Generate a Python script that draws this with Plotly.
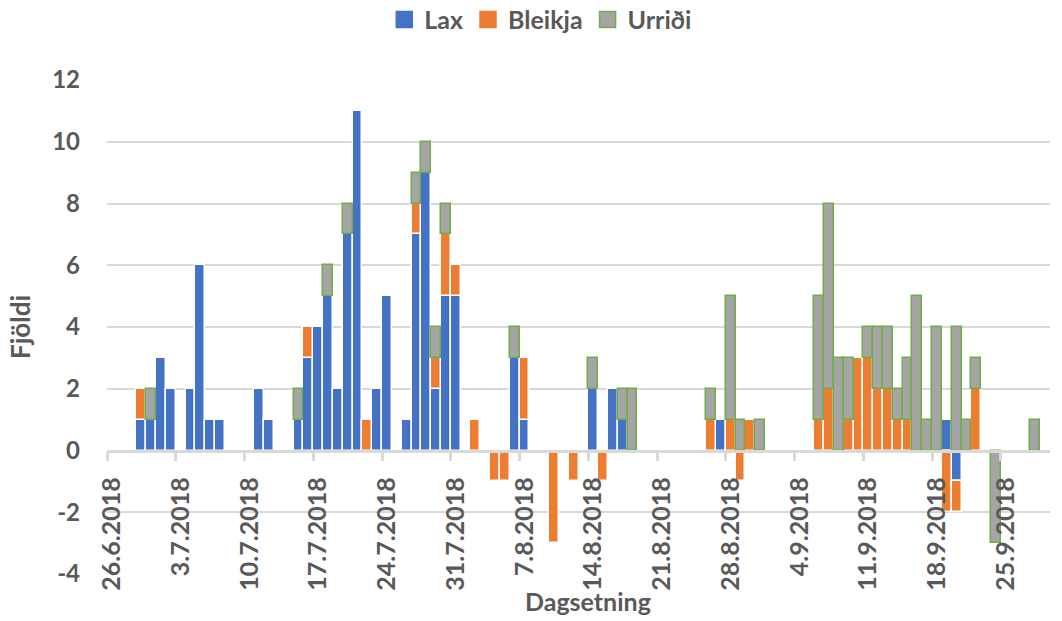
import pandas as pd
import plotly.graph_objects as go

# Daily counts per species (negative values = fish removed from the count)
dates = [
    "29.6.2018", "30.6.2018", "1.7.2018", "2.7.2018", "4.7.2018", "5.7.2018",
    "6.7.2018", "7.7.2018", "11.7.2018", "12.7.2018", "15.7.2018", "16.7.2018",
    "17.7.2018", "18.7.2018", "19.7.2018", "20.7.2018", "21.7.2018", "22.7.2018",
    "23.7.2018", "24.7.2018", "26.7.2018", "27.7.2018", "28.7.2018", "29.7.2018",
    "30.7.2018", "31.7.2018", "2.8.2018", "4.8.2018", "5.8.2018", "6.8.2018",
    "7.8.2018", "10.8.2018", "12.8.2018", "14.8.2018", "15.8.2018", "16.8.2018",
    "17.8.2018", "18.8.2018", "26.8.2018", "27.8.2018", "28.8.2018", "29.8.2018",
    "30.8.2018", "31.8.2018", "6.9.2018", "7.9.2018", "8.9.2018", "9.9.2018",
    "10.9.2018", "11.9.2018", "12.9.2018", "13.9.2018", "14.9.2018", "15.9.2018",
    "16.9.2018", "17.9.2018", "18.9.2018", "19.9.2018", "20.9.2018", "21.9.2018",
    "22.9.2018", "24.9.2018", "28.9.2018",
]
lax = [
    1, 1, 3, 2, 2, 6,
    1, 1, 2, 1, 1, 3,
    4, 5, 2, 7, 11, 0,
    2, 5, 1, 7, 9, 2,
    5, 5, 0, 0, 0, 3,
    1, 0, 0, 2, 0, 2,
    1, 0, 0, 1, 0, 0,
    0, 0, 0, 0, 0, 0,
    0, 0, 0, 0, 0, 0,
    0, 0, 0, 1, -1, 0,
    0, 0, 0,
]
bleikja = [
    1, 0, 0, 0, 0, 0,
    0, 0, 0, 0, 0, 1,
    0, 0, 0, 0, 0, 1,
    0, 0, 0, 1, 0, 1,
    2, 1, 1, -1, -1, 0,
    2, -3, -1, 0, -1, 0,
    0, 0, 1, 0, 1, -1,
    1, 0, 1, 2, 0, 1,
    3, 3, 2, 2, 1, 1,
    0, 0, 0, -2, -1, 0,
    2, 0, 0,
]
urridi = [
    0, 1, 0, 0, 0, 0,
    0, 0, 0, 0, 1, 0,
    0, 1, 0, 1, 0, 0,
    0, 0, 0, 1, 1, 1,
    1, 0, 0, 0, 0, 1,
    0, 0, 0, 1, 0, 0,
    1, 2, 1, 0, 4, 1,
    0, 1, 4, 6, 3, 2,
    0, 1, 2, 2, 1, 2,
    5, 1, 4, 0, 4, 1,
    1, -3, 1,
]

tick_labels = [
    "26.6.2018", "3.7.2018", "10.7.2018", "17.7.2018", "24.7.2018",
    "31.7.2018", "7.8.2018", "14.8.2018", "21.8.2018", "28.8.2018",
    "4.9.2018", "11.9.2018", "18.9.2018", "25.9.2018",
]
y_ticks = [-4, -2, 0, 2, 4, 6, 8, 10, 12]

x_dates = pd.to_datetime(dates, format="%d.%m.%Y")
tick_vals = pd.to_datetime(tick_labels, format="%d.%m.%Y")

FONT = "Lato"
TXT = "#595959"
GRID = "#D9D9D9"
DAY_MS = 86400000

series = [
    ("Lax", lax, "#4472C4", "white"),
    ("Bleikja", bleikja, "#ED7D31", "white"),
    ("Urriði", urridi, "#A5A5A5", "#70AD47"),
]

fig = go.Figure()
for name, vals, fill, edge in series:
    fig.add_trace(go.Bar(
        x=x_dates,
        y=[v if v else None for v in vals],
        name=name,
        xperiod=DAY_MS,
        xperiodalignment="middle",
        width=DAY_MS,
        marker=dict(color=fill, line=dict(color=edge, width=1.5)),
        showlegend=False,
    ))
# legend swatches
for name, vals, fill, edge in series:
    fig.add_trace(go.Scatter(
        x=[None], y=[None], mode="markers", name=name,
        marker=dict(symbol="square", size=16, color=fill,
                    line=dict(color=fill if edge == "white" else edge, width=1.5)),
    ))

fig.update_layout(
    width=1062, height=621,
    margin=dict(l=107, r=12, t=80, b=47, autoexpand=False),
    paper_bgcolor="white", plot_bgcolor="white",
    barmode="relative", bargap=0,
    font=dict(family=FONT, color=TXT, size=24, weight="bold"),
    legend=dict(
        orientation="h", x=0.46, xanchor="center",
        yref="container", y=0.968, yanchor="middle",
        font=dict(family=FONT, size=25, color=TXT, weight="bold"),
        itemsizing="trace", bgcolor="rgba(0,0,0,0)",
    ),
    xaxis=dict(
        type="date",
        range=["2018-06-26", "2018-09-30"],
        tickmode="array", tickvals=tick_vals, ticktext=tick_labels,
        tickangle=-90,
        tickfont=dict(family=FONT, size=25, color=TXT, weight="bold"),
        ticklabelshift=5, ticklabelstandoff=6,
        ticks="outside", ticklen=9, tickwidth=2.5, tickcolor=GRID,
        showline=True, linecolor=GRID, linewidth=2.5,
        showgrid=False, zeroline=False,
        anchor="free", position=0.25, automargin=False,
    ),
    yaxis=dict(
        range=[-4, 12],
        tickmode="array", tickvals=y_ticks, ticktext=[str(v) for v in y_ticks],
        showgrid=True, gridcolor=GRID, gridwidth=2,
        zeroline=False, showline=False,
        ticks="", ticklabelstandoff=26, automargin=False,
        tickfont=dict(family=FONT, size=24, color=TXT, weight="bold"),
        title=dict(text="Fjöldi", standoff=14,
                   font=dict(family=FONT, size=26, color=TXT, weight="bold")),
    ),
    annotations=[dict(
        text="Dagsetning", xref="paper", yref="paper",
        x=0.51, y=-0.02, xanchor="center", yanchor="top", showarrow=False,
        font=dict(family=FONT, size=25, color=TXT, weight="bold"),
    )],
)

fig.write_html("out.html")
